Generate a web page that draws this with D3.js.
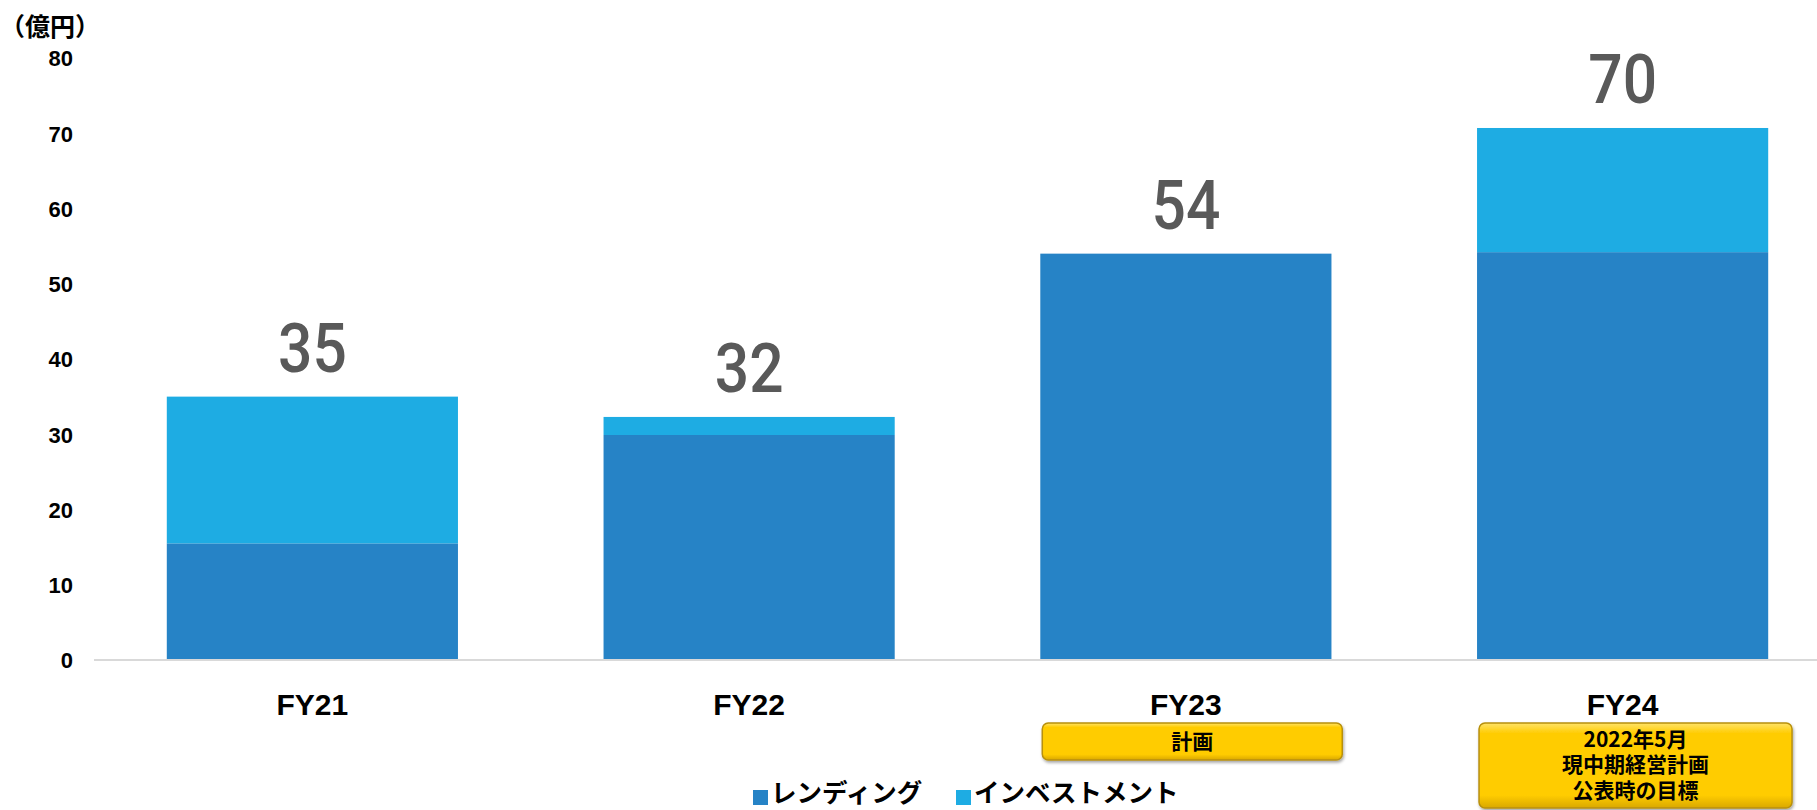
<!DOCTYPE html>
<html><head><meta charset="utf-8">
<script src="https://cdn.jsdelivr.net/npm/d3@7"></script>
<style>
html,body{margin:0;padding:0;background:#fff;}
svg{display:block;}
</style></head>
<body>
<svg id="chart" width="1817" height="810"></svg>
<script>
const categories = ["FY21", "FY22", "FY23", "FY24"];
const lending = [15.5, 29.9, 54.0, 54.2];
const investment = [19.5, 2.4, 0, 16.5];
const totalLabels = ["35", "32", "54", "70"];
const yTicks = [0, 10, 20, 30, 40, 50, 60, 70, 80];
const seriesNames = ["レンディング", "インベストメント"];
const unitLabel = "（億円）";
const noteBoxes = [null, null, ["計画"], ["2022年5月", "現中期経営計画", "公表時の目標"]];

const colors = ["#2683C6", "#1EACE3"];
const svg = d3.select("#chart");

const y = d3.scaleLinear().domain([0, 80]).range([660, 58]);
const x = d3.scaleBand().domain(categories).range([94, 1841]).paddingInner(1/3).paddingOuter(1/6);

// defs
const defs = svg.append("defs");
const grad = defs.append("linearGradient").attr("id", "gold").attr("x1", 0).attr("y1", 0).attr("x2", 0).attr("y2", 1);
grad.append("stop").attr("offset", "0%").attr("stop-color", "#FFE36A");
grad.append("stop").attr("offset", "12%").attr("stop-color", "#FFCC00");
grad.append("stop").attr("offset", "85%").attr("stop-color", "#FFCC00");
grad.append("stop").attr("offset", "100%").attr("stop-color", "#D9A800");
const f = defs.append("filter").attr("id", "shadow").attr("x", "-5%").attr("y", "-20%").attr("width", "110%").attr("height", "150%");
f.append("feDropShadow").attr("dx", 1).attr("dy", 2).attr("stdDeviation", 1.5).attr("flood-color", "#000").attr("flood-opacity", 0.35);

// stacked data
const stackData = categories.map((c, i) => ({cat: c, lending: lending[i], investment: investment[i]}));
const stack = d3.stack().keys(["lending", "investment"])(stackData);

svg.append("g").selectAll("g").data(stack).join("g")
  .attr("fill", (d, i) => colors[i])
  .selectAll("rect").data(d => d).join("rect")
  .attr("x", d => x(d.data.cat))
  .attr("width", x.bandwidth())
  .attr("y", d => y(d[1]))
  .attr("height", d => y(d[0]) - y(d[1]));

// baseline
svg.append("line").attr("x1", 94).attr("x2", 1817).attr("y1", y(0)).attr("y2", y(0))
  .attr("stroke", "#D9D9D9").attr("stroke-width", 2);

// y axis labels
const yAxis = d3.axisLeft(y).tickValues(yTicks).tickSize(0).tickPadding(0);
const yg = svg.append("g").attr("transform", "translate(73,0)").call(yAxis);
yg.select(".domain").remove();
yg.selectAll("text").attr("font-family", "'Liberation Sans', Arial, sans-serif")
  .attr("font-weight", "bold").attr("font-size", 22).attr("fill", "#000").attr("dy", "0.36em");

// unit label
svg.append("text").attr("x", 0).attr("y", 36).text(unitLabel)
  .attr("font-family", "'Noto Sans CJK JP', sans-serif").attr("font-weight", "bold")
  .attr("font-size", 25).attr("fill", "#000");

// x axis labels
const xAxis = d3.axisBottom(x).tickSize(0).tickPadding(0);
const xg = svg.append("g").attr("transform", `translate(0,${y(0)})`).call(xAxis);
xg.select(".domain").remove();
xg.selectAll("text").attr("font-family", "'Liberation Sans', Arial, sans-serif")
  .attr("font-weight", "bold").attr("font-size", 30).attr("fill", "#000")
  .attr("dy", null).attr("y", 55);

// total labels
svg.append("g").selectAll("text").data(categories).join("text")
  .attr("transform", (d, i) => `translate(${x(d) + x.bandwidth() / 2},${y(lending[i] + investment[i]) - 25}) scale(0.89,1)`)
  .attr("text-anchor", "middle")
  .attr("font-family", "Roboto, 'Liberation Sans', sans-serif")
  .attr("font-weight", 500)
  .attr("font-size", 68).attr("fill", "#595959")
  .text((d, i) => totalLabels[i]);

// note boxes
categories.forEach((c, i) => {
  const lines = noteBoxes[i];
  if (!lines) return;
  const left = x(c) + 2;
  const w = lines.length > 1 ? 313 : 300;
  const h = lines.length > 1 ? 85 : 37;
  const cx = left + w / 2;
  const top = 723;
  svg.append("rect").attr("x", left).attr("y", top).attr("width", w).attr("height", h)
    .attr("rx", 6).attr("ry", 6).attr("fill", "url(#gold)")
    .attr("stroke", "#B8900A").attr("stroke-width", 1.5).attr("filter", "url(#shadow)");
  const lh = 25.5;
  const startY = top + h / 2 - (lines.length - 1) * lh / 2 - (lines.length > 1 ? 1 : 0);
  const t = svg.append("text").attr("text-anchor", "middle")
    .attr("font-family", "'Noto Sans CJK JP', sans-serif").attr("font-weight", "bold")
    .attr("font-size", 21).attr("fill", "#000");
  lines.forEach((s, j) => {
    t.append("tspan").attr("x", cx).attr("y", startY + j * lh).attr("dy", "0.36em").text(s);
  });
});

// legend
const legendItems = [{x: 753, name: seriesNames[0], color: colors[0]}, {x: 956, name: seriesNames[1], color: colors[1]}];
const lg = svg.append("g");
legendItems.forEach(it => {
  lg.append("rect").attr("x", it.x).attr("y", 790).attr("width", 15).attr("height", 15).attr("fill", it.color);
  lg.append("text").attr("x", it.x + 18).attr("y", 802)
    .attr("font-family", "'Noto Sans CJK JP', sans-serif").attr("font-weight", "bold")
    .attr("font-size", 25.5).attr("fill", "#000").text(it.name);
});
</script>
</body></html>
